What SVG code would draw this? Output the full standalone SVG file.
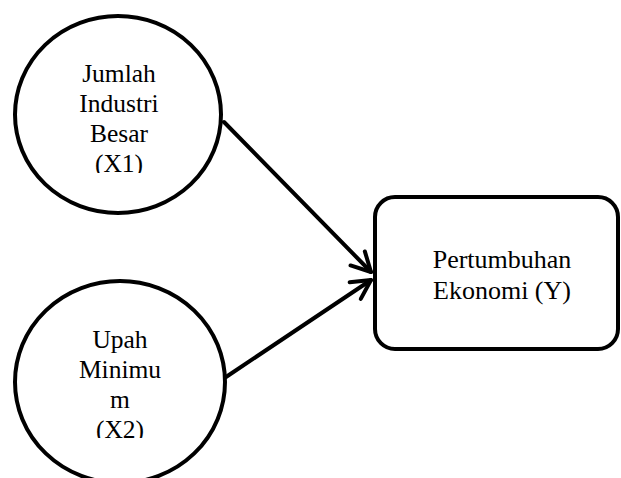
<svg xmlns="http://www.w3.org/2000/svg" width="621" height="478" viewBox="0 0 621 478">
<style>
.shape{fill:#fff;stroke:#000;stroke-width:4}
.lbl{font-family:"Liberation Serif","Times New Roman",serif;fill:#000;text-anchor:middle}
.c{font-size:25.5px}
.b{font-size:26px}
.conn{stroke:#000;stroke-width:4;fill:none;stroke-linecap:round}
</style>
<defs>
<marker id="arr" markerUnits="userSpaceOnUse" markerWidth="30" markerHeight="30" viewBox="-24 -15 30 30" refX="0" refY="0" orient="auto">
<path d="M-19,-10 L0,0 L-19,10" fill="none" stroke="#000" stroke-width="4" stroke-linecap="round" stroke-linejoin="round"/>
</marker>
<clipPath id="clip1"><rect x="0" y="0" width="240" height="173"/></clipPath>
<clipPath id="clip2"><rect x="0" y="300" width="240" height="138"/></clipPath>
</defs>
<g id="connectors">
<line class="conn" x1="224" y1="122" x2="371" y2="272" marker-end="url(#arr)"/>
<line class="conn" x1="226" y1="377" x2="371" y2="280" marker-end="url(#arr)"/>
</g>
<g id="node-x1">
<ellipse class="shape" cx="118" cy="114.5" rx="103" ry="98.5"/>
<g clip-path="url(#clip1)">
<text class="lbl c" x="119" y="82">Jumlah</text>
<text class="lbl c" x="119" y="112">Industri</text>
<text class="lbl c" x="119" y="142">Besar</text>
<text class="lbl c" x="119" y="172">(X1)</text>
</g>
</g>
<g id="node-x2">
<ellipse class="shape" cx="120" cy="382" rx="105" ry="101"/>
<g clip-path="url(#clip2)">
<text class="lbl c" x="120" y="348">Upah</text>
<text class="lbl c" x="120" y="378">Minimu</text>
<text class="lbl c" x="120" y="408">m</text>
<text class="lbl c" x="120" y="438">(X2)</text>
</g>
</g>
<g id="node-y">
<rect class="shape" x="375" y="197" width="243" height="152" rx="20" ry="20"/>
<text class="lbl b" x="502" y="268">Pertumbuhan</text>
<text class="lbl b" x="502" y="299">Ekonomi (Y)</text>
</g>
</svg>
